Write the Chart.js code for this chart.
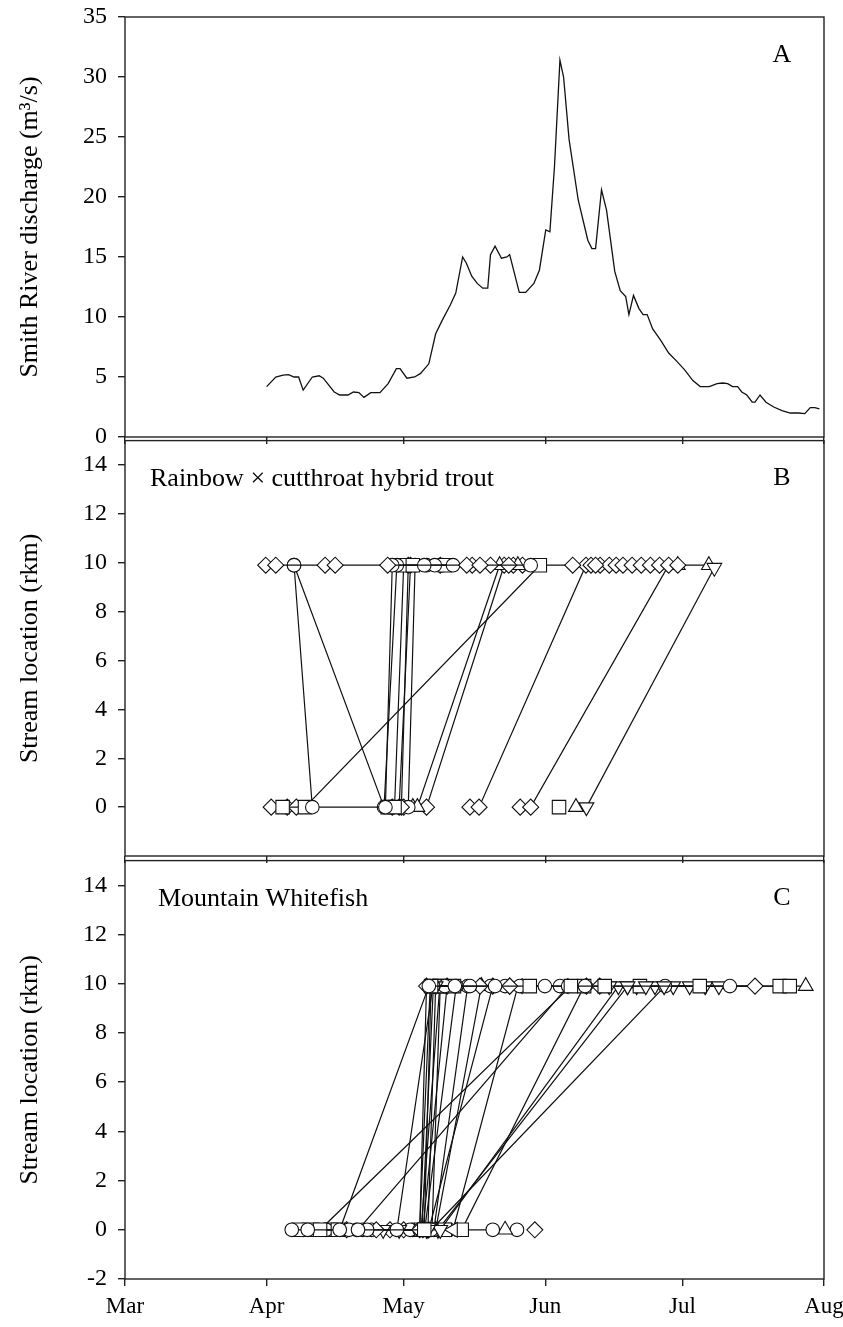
<!DOCTYPE html>
<html>
<head>
<meta charset="utf-8">
<script src="https://cdn.jsdelivr.net/npm/chart.js@4"></script>
<style>
  body { margin: 0; background: #fff; }
  #wrap { position: relative; width: 843px; height: 1327px; }
  canvas { position: absolute; left: 0; }
</style>
</head>
<body>
<div id="wrap">
  <canvas id="chartA" width="843" height="450" style="top:0px;width:843px;height:450px"></canvas>
  <canvas id="chartB" width="843" height="440" style="top:430px;width:843px;height:440px"></canvas>
  <canvas id="chartC" width="843" height="477" style="top:850px;width:843px;height:477px"></canvas>
</div>
<script>
// x values are days since 1 March
const monthDays = [0, 31, 61, 92, 122, 153];
const monthLabels = ['Mar', 'Apr', 'May', 'Jun', 'Jul', 'Aug'];

const flowTicks = [0, 5, 10, 15, 20, 25, 30, 35];
const troutTicks = [0, 2, 4, 6, 8, 10, 12, 14];
const whitefishTicks = [-2, 0, 2, 4, 6, 8, 10, 12, 14];

// Smith River discharge (m3/s)
const flowDays = [31, 33, 34.6, 35.8, 37, 38, 39, 41, 42.5, 43.4, 45.8, 47, 48.8, 50, 51.2, 52.3, 53.8, 55.8, 57.6, 59.4,
  60.2, 61.7, 63.4, 64.7, 66.5, 68, 69.4, 71.2, 72.4, 73.9, 74.7, 75.9, 77.1, 78.3, 79.4, 80, 81, 82.4, 83.6, 84.2,
  86.3, 87.7, 89.5, 90.7, 92.1, 93, 94, 95.2, 96, 97.2, 99.2, 101.3, 102.2, 103, 104.3, 105.4, 107.2, 108.4, 109.6, 110.3,
  111.3, 112.5, 113.4, 114.3, 115.5, 117.2, 119, 120.8, 122.5, 124.3, 125.9, 127.9, 129.6, 130.8, 131.9, 133, 134.1, 135, 136.1, 137.3,
  137.9, 139, 140.3, 142, 143.8, 145.6, 147.4, 148.8, 150, 151, 152];
const flowValues = [4.2, 5.0, 5.15, 5.2, 5.0, 5.0, 3.9, 5.0, 5.1, 4.9, 3.75, 3.5, 3.5, 3.75, 3.7, 3.3, 3.7, 3.7, 4.45, 5.7,
  5.7, 4.9, 5.0, 5.3, 6.1, 8.6, 9.7, 11.0, 12.0, 15.0, 14.5, 13.4, 12.8, 12.4, 12.4, 15.2, 15.9, 14.9, 15.0, 15.2,
  12.05, 12.05, 12.8, 13.9, 17.25, 17.1, 22.5, 31.4, 30.0, 24.8, 19.75, 16.4, 15.7, 15.7, 20.6, 18.9, 13.8, 12.2, 11.7, 10.2,
  11.8, 10.7, 10.2, 10.2, 9.0, 8.1, 7.0, 6.3, 5.6, 4.7, 4.2, 4.2, 4.45, 4.5, 4.45, 4.2, 4.2, 3.75, 3.5, 2.9,
  2.9, 3.5, 2.9, 2.5, 2.2, 2.0, 2.0, 1.95, 2.45, 2.45, 2.35];

// Rainbow x cutthroat hybrid trout, one entry per fish
const troutShapes = ['diamond', 'circle', 'circle', 'square', 'diamond', 'square', 'diamond', 'diamond', 'circle',
  'up', 'diamond', 'diamond', 'diamond', 'diamond', 'square', 'up', 'down', 'up'];
const troutDays = [
  [30.8, 33, 43.8, 46, 57.5, 74.8, 77.7],
  [37, 41, 57, 58.5, 65.5, 71.8],
  [37, 56.7, 59.5, 67.8, 88.8],
  [34.5, 39.4, 90.8],
  [32, 35.5, 37.5],
  [57.5, 59, 61, 63, 70],
  [58.5, 60.5, 62, 69, 76],
  [60, 62.5, 80, 84],
  [62, 63.5, 66, 69.5],
  [63, 64, 82, 86],
  [61, 66, 83, 85, 87, 98],
  [75.5, 77.5, 100.9, 102, 103],
  [86.5, 88.8, 119, 121],
  [104, 106, 107.5, 109, 111, 113, 115, 117],
  [95],
  [98.7],
  [101, 129],
  [121, 127.8]
];
const troutRkm = [
  [9.9, 9.9, 9.9, 9.9, 9.9, 9.9, 9.9],
  [9.9, 0, 0, 9.9, 9.9, 9.9],
  [9.9, 0, 9.9, 9.9, 9.9],
  [0, 0, 9.9],
  [0, 0, 0],
  [0, 0, 9.9, 9.9, 9.9],
  [0, 0, 9.9, 9.9, 9.9],
  [0, 9.9, 9.9, 9.9],
  [0, 9.9, 9.9, 9.9],
  [0, 0, 9.9, 9.9],
  [0, 0, 9.9, 9.9, 9.9, 9.9],
  [0, 0, 9.9, 9.9, 9.9],
  [0, 0, 9.9, 9.9],
  [9.9, 9.9, 9.9, 9.9, 9.9, 9.9, 9.9, 9.9],
  [0],
  [0],
  [0, 9.8],
  [9.9, 9.9]
];

// Mountain Whitefish, one entry per fish
const whitefishShapes = ['circle', 'square', 'circle', 'square', 'circle', 'diamond', 'circle', 'down', 'down', 'circle',
  'square', 'diamond', 'circle', 'left', 'square', 'circle', 'circle', 'diamond', 'down', 'square', 'up',
  'circle', 'up', 'circle', 'diamond'];
const whitefishDays = [
  [36.5, 40, 47, 66.5, 72.2, 81],
  [38, 42.7, 97.6, 105, 125.8],
  [39, 49, 51, 97, 100.7],
  [41, 46.6, 65.5, 67, 88.6],
  [44, 53, 59.5, 67.4, 75.5],
  [48.5, 55, 64.5, 66, 77.7, 84.2],
  [50.7, 54, 65, 67.5, 86.4, 91.9],
  [56.5, 66.3, 68, 106, 110],
  [60, 69, 108, 114, 118],
  [62.4, 64.5, 66.8, 70, 83.2],
  [45, 64.8, 68.9, 72],
  [58, 65.2, 70.5, 84.2, 103.9],
  [52, 65.6, 72.5, 95.2],
  [71.8, 86, 96],
  [70, 73.7, 100.5, 112.7],
  [66.2, 67, 118.2, 132.4],
  [63, 67.6, 75, 80],
  [61, 66.5, 80.5, 101, 137.9],
  [66, 68.5, 110, 112, 116, 120, 123.6, 127, 130],
  [67.2, 69, 143.3, 145.5],
  [68, 78, 149],
  [71, 80.5],
  [83.2],
  [85.8],
  [89.7]
];
const whitefishRkm = [
  [0, 0, 0, 9.9, 9.9, 9.9],
  [0, 0, 9.9, 9.9, 9.9],
  [0, 0, 0, 9.9, 9.9],
  [0, 0, 0, 9.9, 9.9],
  [0, 0, 0, 9.9, 9.9],
  [0, 0, 0, 9.9, 9.9, 9.9],
  [0, 0, 0, 9.9, 9.9, 9.9],
  [0, 0, 9.9, 9.9, 9.9],
  [0, 0, 9.9, 9.9, 9.9],
  [0, 0, 9.9, 9.9, 9.9],
  [0, 0, 9.9, 9.9],
  [0, 0, 9.9, 9.9, 9.9],
  [0, 0, 9.9, 9.9],
  [0, 9.9, 9.9],
  [0, 0, 9.9, 9.9],
  [0, 0, 9.9, 9.9],
  [0, 0, 9.9, 9.9],
  [0, 0, 9.9, 9.9, 9.9],
  [0, 0, 9.9, 9.9, 9.9, 9.9, 9.9, 9.9, 9.9],
  [0, 9.9, 9.9, 9.9],
  [0, 9.9, 9.9],
  [0, 0],
  [0],
  [0],
  [0]
];

Chart.defaults.font.family = '"Liberation Serif", "Times New Roman", serif';
Chart.defaults.color = '#000';

const markers = {
  diamond: { style: 'rectRot', rotation: 0, radius: 8 },
  circle: { style: 'circle', rotation: 0, radius: 6.8 },
  square: { style: 'rect', rotation: 0, radius: 9.5 },
  up: { style: 'triangle', rotation: 0, radius: 8.5 },
  down: { style: 'triangle', rotation: 180, radius: 8.5 },
  left: { style: 'triangle', rotation: 270, radius: 8.5 }
};

function fishSets(shapes, days, rkm) {
  return shapes.map((s, i) => ({
    data: days[i].map((d, j) => ({ x: d, y: rkm[i][j] })),
    showLine: true,
    borderColor: '#111',
    borderWidth: 1.2,
    pointStyle: markers[s].style,
    pointRotation: markers[s].rotation,
    pointRadius: markers[s].radius,
    pointBackgroundColor: '#fff',
    pointBorderColor: '#111',
    pointBorderWidth: 1.1
  }));
}

function axisX(labelled, height) {
  return {
    type: 'linear', min: 0, max: 153,
    afterBuildTicks: s => { s.ticks = monthDays.map(v => ({ value: v })); },
    afterFit: s => { s.height = height; s.paddingLeft = 0; s.paddingRight = 0; },
    border: { display: false },
    grid: { drawOnChartArea: false, drawTicks: true, tickLength: 7, tickColor: '#222', lineWidth: 1.4 },
    ticks: {
      autoSkip: false, maxRotation: 0, color: '#000', font: { size: 23 }, padding: 7,
      callback: (v, i) => labelled ? monthLabels[i] : ''
    }
  };
}

function axisY(min, max, tickValues, title) {
  return {
    type: 'linear', min: min, max: max,
    afterBuildTicks: s => { s.ticks = tickValues.map(v => ({ value: v })); },
    afterFit: s => { s.width = 125; s.paddingTop = 0; s.paddingBottom = 0; },
    border: { display: false },
    grid: { drawOnChartArea: false, drawTicks: true, tickLength: 7, tickColor: '#222', lineWidth: 1.4 },
    ticks: { color: '#000', font: { size: 24 }, padding: 11 },
    title: { display: true, text: title, color: '#000', font: { size: 26 }, padding: { top: 15, bottom: 0 } }
  };
}

// frame round the plot area plus the panel letter and caption
const panelFrame = {
  id: 'panelFrame',
  afterDraw(chart, args, opts) {
    const { ctx, chartArea: a } = chart;
    ctx.save();
    ctx.strokeStyle = '#222';
    ctx.lineWidth = 1.4;
    ctx.strokeRect(a.left, a.top, a.right - a.left, a.bottom - a.top);
    ctx.fillStyle = '#000';
    ctx.font = '26px "Liberation Serif", serif';
    ctx.textBaseline = 'middle';
    ctx.textAlign = 'center';
    ctx.fillText(opts.letter, a.right - 42, a.top + 38);
    if (opts.note) {
      ctx.textAlign = 'left';
      ctx.fillText(opts.note, a.left + opts.noteX, a.top + 39);
    }
    ctx.restore();
  }
};

function baseOptions(top, xAxisCfg, yAxisCfg, frame) {
  return {
    responsive: false,
    animation: false,
    layout: { padding: { left: 0, right: 19, top: top, bottom: 0 } },
    scales: { x: xAxisCfg, y: yAxisCfg },
    plugins: { legend: { display: false }, tooltip: { enabled: false }, panelFrame: frame }
  };
}

new Chart(document.getElementById('chartA'), {
  type: 'scatter',
  data: {
    datasets: [{
      data: flowDays.map((d, i) => ({ x: d, y: flowValues[i] })),
      showLine: true,
      borderColor: '#111',
      borderWidth: 1.3,
      pointRadius: 0
    }]
  },
  options: baseOptions(17, axisX(false, 13), axisY(0, 35, flowTicks, 'Smith River discharge (m\u00b3/s)'),
    { letter: 'A', note: '' }),
  plugins: [panelFrame]
});

new Chart(document.getElementById('chartB'), {
  type: 'scatter',
  data: { datasets: fishSets(troutShapes, troutDays, troutRkm) },
  options: baseOptions(7, axisX(false, 14), axisY(-2, 15, troutTicks, 'Stream location (rkm)'),
    { letter: 'B', note: 'Rainbow \u00d7 cutthroat hybrid trout', noteX: 25 }),
  plugins: [panelFrame]
});

new Chart(document.getElementById('chartC'), {
  type: 'scatter',
  data: { datasets: fishSets(whitefishShapes, whitefishDays, whitefishRkm) },
  options: baseOptions(6, axisX(true, 48), axisY(-2, 15, whitefishTicks, 'Stream location (rkm)'),
    { letter: 'C', note: 'Mountain Whitefish', noteX: 33 }),
  plugins: [panelFrame]
});
</script>
</body>
</html>
